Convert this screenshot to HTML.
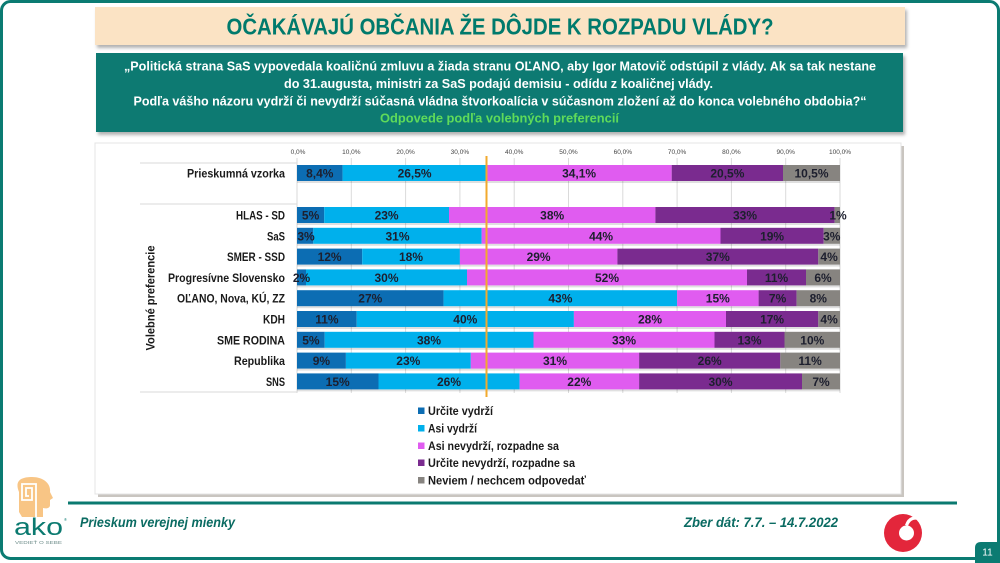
<!DOCTYPE html>
<html>
<head>
<meta charset="utf-8">
<style>
html,body{margin:0;padding:0;background:#fff;}
svg{display:block;}
text{font-family:"Liberation Sans",sans-serif;}
</style>
</head>
<body>
<svg width="1000" height="563" viewBox="0 0 1000 563" xmlns="http://www.w3.org/2000/svg">
<defs>
<filter id="sh" x="-5%" y="-20%" width="110%" height="150%">
<feDropShadow dx="2" dy="3" stdDeviation="1.5" flood-color="#000" flood-opacity="0.3"/>
</filter>
</defs>

<!-- outer frame -->
<rect x="1.5" y="1.5" width="997" height="557" rx="9" fill="#fff" stroke="#0b7b72" stroke-width="3"/>

<!-- title -->
<rect x="95" y="7" width="810" height="38" fill="#fbe3c4" filter="url(#sh)"/>
<text x="500" y="34.5" text-anchor="middle" font-size="23.5" font-weight="bold" fill="#007a6c" textLength="547" lengthAdjust="spacingAndGlyphs">OČAKÁVAJÚ OBČANIA ŽE DÔJDE K ROZPADU VLÁDY?</text>

<!-- subtitle box -->
<rect x="96" y="53" width="807" height="79" fill="#0b7a72" filter="url(#sh)"/>
<g font-size="12.5" font-weight="bold" fill="#fff" text-anchor="middle">
<text x="500" y="70.5" textLength="752" lengthAdjust="spacingAndGlyphs">„Politická strana SaS vypovedala koaličnú zmluvu a žiada stranu OĽANO, aby Igor Matovič odstúpil z vlády. Ak sa tak nestane</text>
<text x="498.5" y="88" textLength="429" lengthAdjust="spacingAndGlyphs">do 31.augusta, ministri za SaS podajú demisiu - odídu z koaličnej vlády.</text>
<text x="500" y="105.5" textLength="733" lengthAdjust="spacingAndGlyphs">Podľa vášho názoru vydrží či nevydrží súčasná vládna štvorkoalícia v súčasnom zložení až do konca volebného obdobia?“</text>
<text x="499.5" y="122.5" textLength="239" lengthAdjust="spacingAndGlyphs" fill="#5fdb5a">Odpovede podľa volebných preferencií</text>
</g>

<!-- chart box -->
<rect x="98" y="146" width="806" height="351" fill="#c9c5c0"/>
<rect x="95" y="143" width="806" height="351" fill="#fff" stroke="#e4e4e4" stroke-width="1"/>

<!-- gridlines -->
<g stroke="#dadada" stroke-width="1">
<line x1="297" y1="158" x2="297" y2="393"/>
<line x1="351.3" y1="158" x2="351.3" y2="393"/>
<line x1="405.6" y1="158" x2="405.6" y2="393"/>
<line x1="459.9" y1="158" x2="459.9" y2="393"/>
<line x1="514.2" y1="158" x2="514.2" y2="393"/>
<line x1="568.5" y1="158" x2="568.5" y2="393"/>
<line x1="622.8" y1="158" x2="622.8" y2="393"/>
<line x1="677.1" y1="158" x2="677.1" y2="393"/>
<line x1="731.4" y1="158" x2="731.4" y2="393"/>
<line x1="785.7" y1="158" x2="785.7" y2="393"/>
<line x1="840" y1="158" x2="840" y2="393"/>
<line x1="140" y1="163" x2="297" y2="163"/>
<line x1="140" y1="204" x2="297" y2="204"/>
<line x1="140" y1="392" x2="297" y2="392"/>
</g>

<!-- tick labels -->
<g font-size="6.5" fill="#444" text-anchor="middle">
<text x="298" y="154">0,0%</text>
<text x="351.3" y="154">10,0%</text>
<text x="405.6" y="154">20,0%</text>
<text x="459.9" y="154">30,0%</text>
<text x="514.2" y="154">40,0%</text>
<text x="568.5" y="154">50,0%</text>
<text x="622.8" y="154">60,0%</text>
<text x="677.1" y="154">70,0%</text>
<text x="731.4" y="154">80,0%</text>
<text x="785.7" y="154">90,0%</text>
<text x="840" y="154">100,0%</text>
</g>

<!-- bar shadows -->
<g fill="#000" opacity="0.12">
<rect x="297" y="181" width="543" height="2"/>
<rect x="297" y="223" width="543" height="2"/>
<rect x="297" y="243.8" width="543" height="2"/>
<rect x="297" y="264.6" width="543" height="2"/>
<rect x="297" y="285.4" width="543" height="2"/>
<rect x="297" y="306.2" width="543" height="2"/>
<rect x="297" y="327" width="543" height="2"/>
<rect x="297" y="347.8" width="543" height="2"/>
<rect x="297" y="368.6" width="543" height="2"/>
<rect x="297" y="389.4" width="543" height="2"/>
</g>

<!-- bars -->
<g>
<rect x="297" y="165" width="45.6" height="16" fill="#0c6db3"/>
<rect x="342.6" y="165" width="143.9" height="16" fill="#00b0ec"/>
<rect x="486.5" y="165" width="185.2" height="16" fill="#e05cf0"/>
<rect x="671.7" y="165" width="111.3" height="16" fill="#7a2b8f"/>
<rect x="783" y="165" width="57" height="16" fill="#878480"/>

<rect x="297" y="207" width="27.2" height="16" fill="#0c6db3"/>
<rect x="324.2" y="207" width="124.9" height="16" fill="#00b0ec"/>
<rect x="449" y="207" width="206.4" height="16" fill="#e05cf0"/>
<rect x="655.4" y="207" width="179.2" height="16" fill="#7a2b8f"/>
<rect x="834.6" y="207" width="5.4" height="16" fill="#878480"/>

<rect x="297" y="227.8" width="16.3" height="16" fill="#0c6db3"/>
<rect x="313.3" y="227.8" width="168.3" height="16" fill="#00b0ec"/>
<rect x="481.6" y="227.8" width="238.9" height="16" fill="#e05cf0"/>
<rect x="720.5" y="227.8" width="103.2" height="16" fill="#7a2b8f"/>
<rect x="823.7" y="227.8" width="16.3" height="16" fill="#878480"/>

<rect x="297" y="248.6" width="65.2" height="16" fill="#0c6db3"/>
<rect x="362.2" y="248.6" width="97.7" height="16" fill="#00b0ec"/>
<rect x="459.9" y="248.6" width="157.5" height="16" fill="#e05cf0"/>
<rect x="617.4" y="248.6" width="200.9" height="16" fill="#7a2b8f"/>
<rect x="818.3" y="248.6" width="21.7" height="16" fill="#878480"/>

<rect x="297" y="269.4" width="9" height="16" fill="#0c6db3"/>
<rect x="306" y="269.4" width="161" height="16" fill="#00b0ec"/>
<rect x="467" y="269.4" width="280" height="16" fill="#e05cf0"/>
<rect x="747" y="269.4" width="59" height="16" fill="#7a2b8f"/>
<rect x="806" y="269.4" width="34" height="16" fill="#878480"/>

<rect x="297" y="290.2" width="146.6" height="16" fill="#0c6db3"/>
<rect x="443.6" y="290.2" width="233.5" height="16" fill="#00b0ec"/>
<rect x="677.1" y="290.2" width="81.5" height="16" fill="#e05cf0"/>
<rect x="758.6" y="290.2" width="38" height="16" fill="#7a2b8f"/>
<rect x="796.6" y="290.2" width="43.4" height="16" fill="#878480"/>

<rect x="297" y="311" width="59.7" height="16" fill="#0c6db3"/>
<rect x="356.7" y="311" width="217.2" height="16" fill="#00b0ec"/>
<rect x="573.9" y="311" width="152.1" height="16" fill="#e05cf0"/>
<rect x="726" y="311" width="92.3" height="16" fill="#7a2b8f"/>
<rect x="818.3" y="311" width="21.7" height="16" fill="#878480"/>

<rect x="297" y="331.8" width="27.7" height="16" fill="#0c6db3"/>
<rect x="324.7" y="331.8" width="208.8" height="16" fill="#00b0ec"/>
<rect x="533.5" y="331.8" width="181" height="16" fill="#e05cf0"/>
<rect x="714.5" y="331.8" width="70" height="16" fill="#7a2b8f"/>
<rect x="784.5" y="331.8" width="55.5" height="16" fill="#878480"/>

<rect x="297" y="352.6" width="48.9" height="16" fill="#0c6db3"/>
<rect x="345.9" y="352.6" width="124.9" height="16" fill="#00b0ec"/>
<rect x="470.8" y="352.6" width="168.3" height="16" fill="#e05cf0"/>
<rect x="639.1" y="352.6" width="141.2" height="16" fill="#7a2b8f"/>
<rect x="780.3" y="352.6" width="59.7" height="16" fill="#878480"/>

<rect x="297" y="373.4" width="81.5" height="16" fill="#0c6db3"/>
<rect x="378.5" y="373.4" width="141.1" height="16" fill="#00b0ec"/>
<rect x="519.6" y="373.4" width="119.5" height="16" fill="#e05cf0"/>
<rect x="639.1" y="373.4" width="162.9" height="16" fill="#7a2b8f"/>
<rect x="802" y="373.4" width="38" height="16" fill="#878480"/>
</g>

<!-- orange reference line -->
<line x1="486.5" y1="156" x2="486.5" y2="397" stroke="#f2aa2e" stroke-width="2"/>

<!-- bar labels -->
<g font-size="12" font-weight="bold" fill="#1d1f2e" text-anchor="middle">
<text x="319.8" y="177.5">8,4%</text>
<text x="414.6" y="177.5">26,5%</text>
<text x="579.1" y="177.5">34,1%</text>
<text x="727.4" y="177.5">20,5%</text>
<text x="811.5" y="177.5">10,5%</text>

<text x="310.6" y="219.5">5%</text>
<text x="386.6" y="219.5">23%</text>
<text x="552.2" y="219.5">38%</text>
<text x="745" y="219.5">33%</text>
<text x="838" y="219.5">1%</text>

<text x="306" y="240.3">3%</text>
<text x="397.5" y="240.3">31%</text>
<text x="601.1" y="240.3">44%</text>
<text x="772.1" y="240.3">19%</text>
<text x="831.8" y="240.3">3%</text>

<text x="329.6" y="261.1">12%</text>
<text x="411" y="261.1">18%</text>
<text x="538.6" y="261.1">29%</text>
<text x="717.8" y="261.1">37%</text>
<text x="829.1" y="261.1">4%</text>

<text x="301.5" y="281.9">2%</text>
<text x="386.5" y="281.9">30%</text>
<text x="607" y="281.9">52%</text>
<text x="776.5" y="281.9">11%</text>
<text x="823" y="281.9">6%</text>

<text x="370.3" y="302.7">27%</text>
<text x="560.4" y="302.7">43%</text>
<text x="717.8" y="302.7">15%</text>
<text x="777.6" y="302.7">7%</text>
<text x="818.3" y="302.7">8%</text>

<text x="326.9" y="323.5">11%</text>
<text x="465.3" y="323.5">40%</text>
<text x="650" y="323.5">28%</text>
<text x="772.1" y="323.5">17%</text>
<text x="829.1" y="323.5">4%</text>

<text x="310.9" y="344.3">5%</text>
<text x="429" y="344.3">38%</text>
<text x="624" y="344.3">33%</text>
<text x="749.5" y="344.3">13%</text>
<text x="812.3" y="344.3">10%</text>

<text x="321.4" y="365.1">9%</text>
<text x="408.3" y="365.1">23%</text>
<text x="555" y="365.1">31%</text>
<text x="709.7" y="365.1">26%</text>
<text x="810.1" y="365.1">11%</text>

<text x="337.7" y="385.9">15%</text>
<text x="449" y="385.9">26%</text>
<text x="579.3" y="385.9">22%</text>
<text x="720.5" y="385.9">30%</text>
<text x="821" y="385.9">7%</text>
</g>

<!-- category labels -->
<g font-size="12" font-weight="bold" fill="#1a1a1a" text-anchor="end">
<text x="285" y="177.5" textLength="98" lengthAdjust="spacingAndGlyphs">Prieskumná vzorka</text>
<text x="285" y="219.5" textLength="49" lengthAdjust="spacingAndGlyphs">HLAS - SD</text>
<text x="285" y="240.3" textLength="18" lengthAdjust="spacingAndGlyphs">SaS</text>
<text x="285" y="261.1" textLength="58" lengthAdjust="spacingAndGlyphs">SMER - SSD</text>
<text x="285" y="281.9" textLength="117" lengthAdjust="spacingAndGlyphs">Progresívne Slovensko</text>
<text x="285" y="302.7" textLength="108" lengthAdjust="spacingAndGlyphs">OĽANO, Nova, KÚ, ZZ</text>
<text x="285" y="323.5" textLength="22" lengthAdjust="spacingAndGlyphs">KDH</text>
<text x="285" y="344.3" textLength="68" lengthAdjust="spacingAndGlyphs">SME RODINA</text>
<text x="285" y="365.1" textLength="51" lengthAdjust="spacingAndGlyphs">Republika</text>
<text x="285" y="385.9" textLength="19" lengthAdjust="spacingAndGlyphs">SNS</text>
</g>

<!-- vertical axis label -->
<text transform="translate(154.5,298) rotate(-90)" text-anchor="middle" font-size="12" font-weight="bold" fill="#1a1a1a" textLength="105" lengthAdjust="spacingAndGlyphs">Volebné preferencie</text>

<!-- legend -->
<rect x="418" y="407.5" width="6.5" height="6.5" fill="#0c6db3"/>
<rect x="418" y="425" width="6.5" height="6.5" fill="#00b0ec"/>
<rect x="418" y="442.5" width="6.5" height="6.5" fill="#e05cf0"/>
<rect x="418" y="459.5" width="6.5" height="6.5" fill="#7a2b8f"/>
<rect x="418" y="477" width="6.5" height="6.5" fill="#878480"/>
<g font-size="12" font-weight="bold" fill="#1a1a1a">
<text x="428" y="415" textLength="65" lengthAdjust="spacingAndGlyphs">Určite vydrží</text>
<text x="428" y="432.5" textLength="49" lengthAdjust="spacingAndGlyphs">Asi vydrží</text>
<text x="428" y="450" textLength="131" lengthAdjust="spacingAndGlyphs">Asi nevydrží, rozpadne sa</text>
<text x="428" y="467" textLength="147" lengthAdjust="spacingAndGlyphs">Určite nevydrží, rozpadne sa</text>
<text x="428" y="484.5" textLength="158" lengthAdjust="spacingAndGlyphs">Neviem / nechcem odpovedať</text>
</g>

<!-- footer line -->
<rect x="68" y="501.5" width="889" height="3" fill="#0b7a70"/>

<!-- footer text -->
<g font-size="14" font-weight="bold" font-style="italic" fill="#0a6b62">
<text x="80" y="527" textLength="155" lengthAdjust="spacingAndGlyphs">Prieskum verejnej mienky</text>
<text x="684" y="527" textLength="154" lengthAdjust="spacingAndGlyphs">Zber dát: 7.7. – 14.7.2022</text>
</g>

<!-- ako logo -->
<path d="M19,512 L19,492 C14,480 22,477 32,477 C44,477 51,484 50,492 L53,498 L50,500 L50,505 C50,508 47,509 43,508 L43,517 L22,517 Z" fill="#f8c585"/>
<path d="M36,517 L36,484 L22,484 L22,500 L32,500 L32,488 L26,488 L26,496 L29,496" fill="none" stroke="#fff" stroke-width="1.8"/>
<text x="14" y="535" font-size="24" fill="#0b7a70" textLength="49" lengthAdjust="spacingAndGlyphs">ako</text>
<text x="64" y="521" font-size="4" fill="#0b7a70">®</text>
<text x="15" y="544" font-size="4.2" fill="#6f8e8b" textLength="47" lengthAdjust="spacingAndGlyphs">VEDIEŤ O SEBE</text>

<!-- red spiral logo -->
<circle cx="903" cy="533" r="19" fill="#e3263b"/>
<circle cx="906.5" cy="533" r="7.5" fill="#fff"/>
<path d="M906.5,525.5 C909,518 915,516 922,520" fill="none" stroke="#fff" stroke-width="3.2"/>
<path d="M884,528 C886,518 894,514 900,514" fill="none" stroke="#fff" stroke-width="1.5" opacity="0.0"/>

<!-- page number -->
<path d="M975,560 L975,548 Q975,542 981,542 L1000,542 L1000,563 L975,563 Z" fill="#0b7b72"/>
<text x="987.5" y="555.5" font-size="10" fill="#fff" text-anchor="middle">11</text>
</svg>
</body>
</html>
